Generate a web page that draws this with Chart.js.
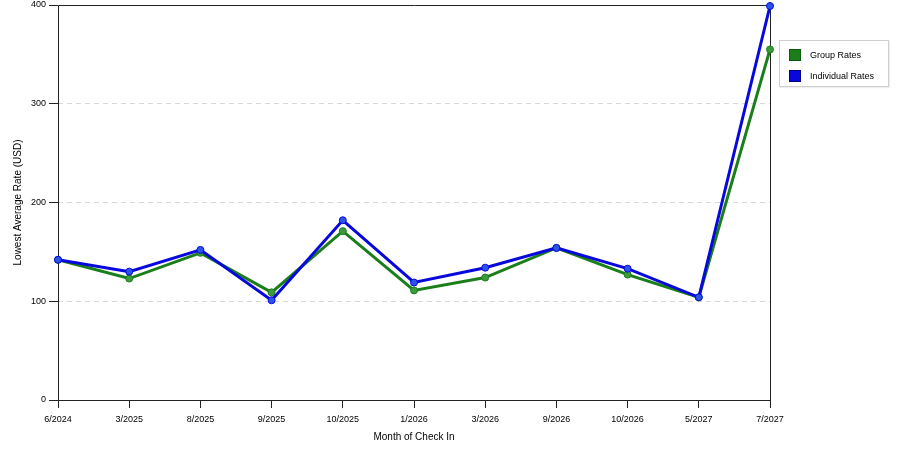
<!DOCTYPE html>
<html>
<head>
<meta charset="utf-8">
<script src="https://cdn.jsdelivr.net/npm/chart.js@4.4.0/dist/chart.umd.min.js"></script>
<style>
  html, body { margin: 0; padding: 0; background: #fff; }
  #wrap { position: relative; width: 900px; height: 450px; }
  #legend {
    position: absolute; left: 779px; top: 40px; width: 108px; height: 45px;
    border: 1px solid #cfcfcf; background: #fff;
    font-family: "Liberation Sans", Arial, sans-serif; font-size: 9px; color: #000;
    box-shadow: 1px 1px 1px #eee;
  }
  .item { position: absolute; left: 9px; height: 12px; line-height: 12px; white-space: nowrap; }
  .sw { display: inline-block; vertical-align: top; margin-right: 9px; }
</style>
</head>
<body>
<div id="wrap">
  <canvas id="c" width="900" height="450"></canvas>
  <div id="legend"></div>
</div>
<script>
const categories = ["6/2024","3/2025","8/2025","9/2025","10/2025","1/2026","3/2026","9/2026","10/2026","5/2027","7/2027"];
const groupRates = [142, 123, 149, 109, 171, 111, 124, 154, 127, 104, 355];
const individualRates = [142, 130, 152, 101, 182, 119, 134, 154, 133, 104, 399];
const seriesNames = ["Group Rates", "Individual Rates"];
const seriesColors = ["#1a7f1a", "#0808dc"];
const pointColors = ["#3c9a3c", "#2a55e6"];
const yTicks = [0, 100, 200, 300, 400];

const TICKFONT = { family: '"Liberation Sans", Arial, sans-serif', size: 9 };
const TITLEFONT = { family: '"Liberation Sans", Arial, sans-serif', size: 10 };

const framePlugin = {
  id: 'frame',
  beforeDatasetsDraw(chart) {
    const a = chart.chartArea, ctx = chart.ctx;
    ctx.save();
    ctx.setLineDash([]);
    ctx.strokeStyle = '#222';
    ctx.lineWidth = 1;
    ctx.beginPath();
    ctx.moveTo(Math.round(a.left) + 0.5, Math.round(a.bottom) + 0.5);
    ctx.lineTo(Math.round(a.left) + 0.5, Math.round(a.top) + 0.5);
    ctx.lineTo(Math.round(a.right) + 0.5, Math.round(a.top) + 0.5);
    ctx.lineTo(Math.round(a.right) + 0.5, Math.round(a.bottom) + 0.5);
    ctx.lineTo(Math.round(a.left) + 0.5, Math.round(a.bottom) + 0.5);
    ctx.stroke();
    ctx.restore();
  }
};

const chart = new Chart(document.getElementById('c'), {
  type: 'line',
  data: {
    labels: categories,
    datasets: [
      {
        label: seriesNames[0], data: groupRates,
        borderColor: seriesColors[0], backgroundColor: pointColors[0],
        pointBackgroundColor: pointColors[0], pointBorderColor: seriesColors[0],
        borderWidth: 3, pointRadius: 3.5, pointBorderWidth: 1, tension: 0,
        clip: false, order: 2
      },
      {
        label: seriesNames[1], data: individualRates,
        borderColor: seriesColors[1], backgroundColor: pointColors[1],
        pointBackgroundColor: pointColors[1], pointBorderColor: seriesColors[1],
        borderWidth: 3, pointRadius: 3.5, pointBorderWidth: 1, tension: 0,
        clip: false, order: 1
      }
    ]
  },
  options: {
    responsive: false,
    animation: false,
    devicePixelRatio: 1,
    layout: { padding: { top: 5, right: 130, left: 0, bottom: 0 } },
    plugins: { legend: { display: false }, tooltip: { enabled: false } },
    scales: {
      x: {
        type: 'category',
        offset: false,
        grid: { display: true, drawOnChartArea: false, drawTicks: true, tickLength: 8, tickColor: '#222', tickWidth: 1 },
        border: { display: true, color: '#222', width: 1 },
        ticks: { color: '#000', font: TICKFONT, padding: 6, maxRotation: 0, autoSkip: false },
        title: { display: true, text: 'Month of Check In', color: '#000', font: TITLEFONT, padding: { top: 0, bottom: 7 } },
        afterFit(s) { s.height = 50; }
      },
      y: {
        min: 0, max: 400,
        afterBuildTicks(s) { s.ticks = yTicks.map(v => ({ value: v })); },
        grid: { color: '#d8d8d8', tickColor: '#222', tickBorderDash: [], tickLength: 9, lineWidth: 1 },
        border: { display: false, color: '#222', width: 1, dash: [5, 4] },
        ticks: { color: '#000', font: TICKFONT, padding: 3 },
        title: { display: true, text: 'Lowest Average Rate (USD)', color: '#000', font: TITLEFONT, padding: { top: 12, bottom: 0 } },
        afterFit(s) { s.width = 58; s.paddingTop = 0; s.paddingBottom = 0; }
      }
    }
  },
  plugins: [framePlugin]
});

const legend = document.getElementById('legend');
seriesNames.forEach((name, i) => {
  const d = document.createElement('div');
  d.className = 'item';
  d.style.top = (8 + i * 21) + 'px';
  const sw = document.createElement('span');
  sw.className = 'sw';
  sw.style.background = seriesColors[i];
  sw.style.border = '1px solid ' + (i === 0 ? '#0d5a0d' : '#00008a');
  sw.style.width = '10px'; sw.style.height = '10px';
  d.appendChild(sw);
  d.appendChild(document.createTextNode(name));
  legend.appendChild(d);
});
</script>
</body>
</html>
